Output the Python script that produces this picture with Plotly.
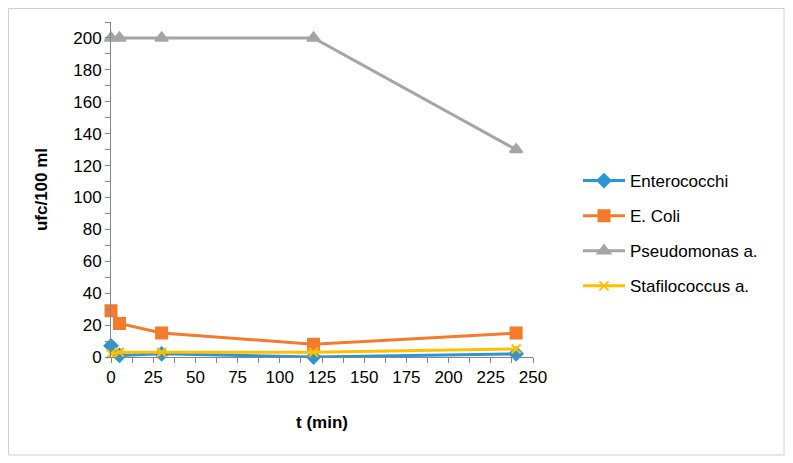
import plotly.graph_objects as go

t_min = [0, 5, 30, 120, 240]
enterococchi = [7, 1, 2, 0, 2]
e_coli = [29, 21, 15, 8, 15]
pseudomonas = [200, 200, 200, 200, 130]
stafilococcus = [2, 3, 3, 3, 5]

series = [
    ("Enterococchi", enterococchi, "#2B96D3", "diamond", 10),
    ("E. Coli", e_coli, "#F47B2C", "square", 11),
    ("Pseudomonas a.", pseudomonas, "#A5A5A5", "triangle-up", 11),
    ("Stafilococcus a.", stafilococcus, "#FFC000", "x-thin", 9),
]

fig = go.Figure()
for name, vals, col, sym, sz in series:
    fig.add_trace(go.Scatter(
        x=t_min, y=vals, name=name, mode="lines+markers", legendgroup=name,
        line=dict(color=col, width=3),
        marker=dict(color=col, symbol=sym, size=sz, line=dict(color=col, width=2)),
        cliponaxis=False,
    ))

# page is offset by 8px body margin
OFF = 8
W, H = 793, 463
L, R, T, B = 111 - OFF, 268, 22 - OFF, 114
pw, ph = W - L - R, H - T - B

def px2x(px):
    return (px - OFF - L) / pw

def py2y(py):
    return (H - B - (py - OFF)) / ph

fig.add_shape(type="rect", xref="paper", yref="paper",
              x0=px2x(8.5), x1=px2x(784), y0=py2y(455), y1=py2y(8.5),
              line=dict(color="#D0D0D0", width=1), layer="below")

FAM = "Liberation Sans, Arial, sans-serif"
font = dict(family=FAM, size=17, color="#000000")

fig.update_layout(
    width=W, height=H,
    margin=dict(l=L, r=R, t=T, b=B),
    paper_bgcolor="white", plot_bgcolor="white",
    font=font,
    showlegend=True,
    legend=dict(x=px2x(578), y=py2y(163), xanchor="left", yanchor="top",
                font=dict(family=FAM, size=17, color="#000"),
                itemwidth=42, tracegroupgap=10, bgcolor="rgba(0,0,0,0)"),
    xaxis=dict(range=[0, 250], dtick=25, tick0=0, showgrid=False, zeroline=False,
               showline=True, linecolor="#868686", linewidth=1,
               ticks="outside", ticklen=5, tickcolor="#868686",
               minor=dict(dtick=12.5, ticks="outside", ticklen=5, tickcolor="#868686"),
               title=dict(text="<b>t (min)</b>", standoff=29, font=dict(size=17))),
    yaxis=dict(range=[0, 210], tickvals=list(range(0, 201, 20)), showgrid=False, zeroline=False,
               showline=True, linecolor="#868686", linewidth=1,
               ticks="outside", ticklen=5, tickcolor="#868686",
               minor=dict(tickvals=list(range(10, 211, 20)), ticks="outside", ticklen=5, tickcolor="#868686"),
               title=dict(text="<b>ufc/100 ml</b>", standoff=21, font=dict(size=17))),
)

fig.write_html("out.html")
